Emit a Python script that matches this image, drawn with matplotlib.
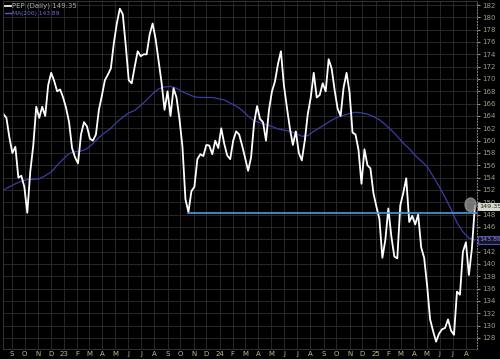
import matplotlib
matplotlib.use("Agg")
import matplotlib.pyplot as plt
import matplotlib.dates as mdates
from matplotlib.patches import Ellipse
import pandas as pd

# weekly closes (from 2022-08-12)
close = [164.3, 163.7, 160.5, 158.0, 159.0, 154.0, 154.3, 152.5, 148.3, 155.0,
         159.2, 165.5, 163.7, 165.5, 164.0, 169.0, 171.0, 169.7, 168.0, 168.3,
         167.0, 165.3, 163.0, 158.8, 157.3, 156.3, 161.0, 163.0, 162.3, 160.3,
         160.0, 161.0, 165.0, 167.3, 169.8, 170.7, 171.7, 175.8, 179.0, 181.4,
         180.5, 175.4, 169.8, 169.3, 172.0, 174.5, 173.7, 174.0, 174.0, 177.2,
         179.0, 176.5, 173.0, 169.4, 165.0, 168.0, 164.0, 168.5, 167.0, 163.5,
         159.0, 150.5, 148.4, 151.8, 152.5, 157.0, 157.8, 157.5, 159.3, 159.2,
         157.8, 160.0, 158.8, 162.0, 159.5, 157.6, 157.0, 160.0, 161.5, 161.0,
         159.2, 157.2, 155.1, 157.3, 162.8, 165.6, 163.5, 163.0, 160.0, 165.0,
         168.0, 169.6, 172.4, 174.5, 169.0, 165.4, 162.0, 159.3, 161.5, 158.0,
         156.8, 160.0, 164.3, 167.0, 171.0, 167.0, 167.4, 169.3, 168.0, 173.2,
         171.7, 168.2, 165.2, 164.0, 168.6, 171.0, 167.8, 161.3, 161.0, 158.5,
         153.0, 158.6, 156.0, 155.5, 151.5, 149.3, 147.3, 141.0, 143.9, 149.0,
         144.5, 141.2, 140.9, 149.5, 151.5, 153.9, 146.8, 147.8, 146.4, 148.0,
         142.7, 141.0, 136.5, 131.0, 129.1, 127.4, 128.7, 129.4, 129.6, 131.0,
         129.2, 128.5, 135.5, 135.0, 142.0, 143.5, 138.2, 142.5, 149.35]

# 200-day moving average, every two weeks
ma200 = [152.0, 152.5, 153.0, 153.4, 153.7, 153.7, 153.8, 154.3, 154.9, 156.0,
         157.0, 157.9, 158.2, 158.3, 158.7, 159.5, 160.5, 161.3, 162.0, 163.0,
         163.8, 164.5, 164.9, 165.7, 166.6, 167.6, 168.4, 168.7, 168.8, 168.5,
         167.9, 167.5, 167.1, 167.0, 167.0, 167.0, 166.8, 166.6, 166.1, 165.6,
         164.9, 164.0, 163.2, 162.9, 162.6, 162.3, 161.9, 161.7, 161.5, 161.2,
         160.7, 160.8, 161.5, 162.1, 162.7, 163.3, 163.8, 164.1, 164.4, 164.6,
         164.5, 164.3, 163.9, 163.4, 162.6, 161.7, 160.7, 159.6, 158.7, 157.6,
         156.7, 155.8, 154.2, 152.6, 150.8, 148.9, 146.7, 145.2, 144.2, 143.89]

support_level = 148.3
support_start = "2023-10-20"
last_price = 149.35
last_ma = 143.89

dates = pd.date_range("2022-08-12", periods=len(close), freq="W-FRI")
ma_dates = pd.date_range("2022-08-12", periods=len(ma200), freq="2W-FRI")

fig = plt.figure(figsize=(5, 3.59), dpi=100, facecolor="black")
ax = fig.add_axes([3 / 500, 10 / 359, 474 / 500, 348 / 359])
ax.set_facecolor("black")

x0 = pd.Timestamp("2022-08-11")
x1 = pd.Timestamp("2025-08-27")
ax.set_xlim(x0, x1)
ax.set_ylim(126.2, 182.65)

# grid: every month and every 2 points
months = pd.date_range("2022-09-01", "2025-08-01", freq="MS")
ax.set_xticks(months)
labels = [str(d.year)[2:] if d.month == 1 else d.strftime("%b")[0] for d in months]
ax.set_xticklabels(labels)
yt = list(range(128, 183, 2))
ax.set_yticks(yt)
ax.set_yticklabels(["" if v == 144 else str(v) for v in yt])
ax.grid(True, color="#2e2e2e", linewidth=0.6)
ax.set_axisbelow(True)

ax.yaxis.tick_right()
ax.tick_params(axis="y", colors="#8c8c80", labelsize=5, length=2, pad=2)
ax.tick_params(axis="x", colors="#c8b88a", labelsize=5, length=0, pad=1.5)
for lab in ax.get_yticklabels():
    lab.set_color("#9a9a8a")

for side in ["left", "top", "bottom"]:
    ax.spines[side].set_color("#3a3a3a")
    ax.spines[side].set_linewidth(0.6)
ax.spines["right"].set_color("#777777")
ax.spines["right"].set_linestyle(":")
ax.spines["right"].set_linewidth(0.8)

ax.plot(ma_dates, ma200, color="#3c3ca8", linewidth=0.9)
ax.plot(dates, close, color="white", linewidth=1.3)
ax.plot([pd.Timestamp(support_start), x1], [support_level, support_level],
        color="#4a9de0", linewidth=1.2)

# highlight circle on last price
ax.add_patch(Ellipse((mdates.date2num(pd.Timestamp("2025-08-12")), 149.6),
                     width=26, height=2.2, color="#9a9a9a", alpha=0.75,
                     zorder=5))

# right-side price tags
ax.text(1.004, last_price, f"{last_price:.2f}", transform=ax.get_yaxis_transform(),
        fontsize=4.6, color="#202020", va="center", ha="left", zorder=10,
        bbox=dict(boxstyle="square,pad=0.2", fc="#d8d8c8", ec="#e8e8e8", lw=0.6))
ax.text(1.004, last_ma, f"{last_ma:.2f}", transform=ax.get_yaxis_transform(),
        fontsize=4.6, color="#9090d0", va="center", ha="left", zorder=10,
        bbox=dict(boxstyle="square,pad=0.2", fc="#14142a", ec="#5050b0", lw=0.8))

# legend text
ax.plot([0.004, 0.016], [0.985, 0.985], transform=ax.transAxes, color="white", lw=1.2)
ax.text(0.02, 0.985, f"PEP (Daily) {last_price}", transform=ax.transAxes,
        fontsize=5, color="#a8a8a8", va="center", ha="left")
ax.plot([0.004, 0.016], [0.965, 0.965], transform=ax.transAxes, color="#5a5ad0", lw=1.0)
ax.text(0.02, 0.965, f"MA(200) {last_ma}", transform=ax.transAxes,
        fontsize=4.2, color="#6a6ad8", va="center", ha="left")

fig.savefig("out.png", dpi=100, facecolor="black")
